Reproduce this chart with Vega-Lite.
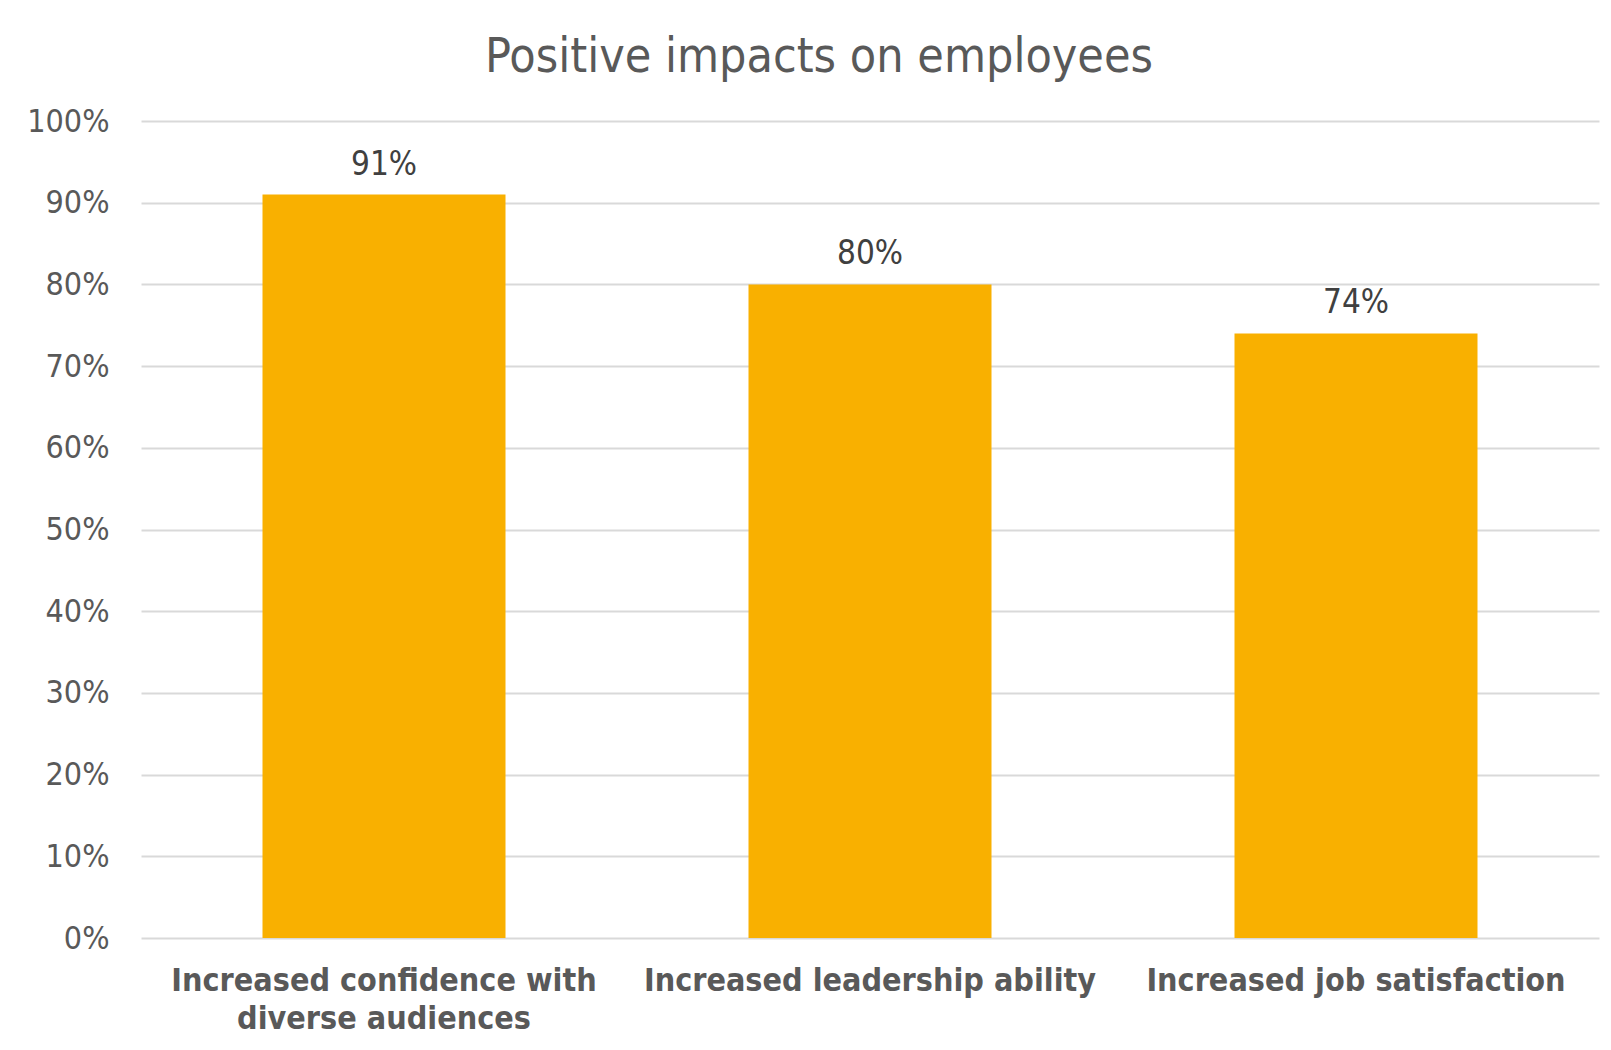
{
  "$schema": "https://vega.github.io/schema/vega-lite/v6.json",
  "autosize": {"type": "none"},
  "width": 1458,
  "height": 817,
  "padding": {"left": 141, "top": 121, "right": 12, "bottom": 112},
  "background": "white",
  "title": {
    "text": "Positive impacts on employees",
    "font": "DejaVu Sans Condensed",
    "fontSize": 48,
    "fontWeight": "normal",
    "color": "#595959",
    "anchor": "middle",
    "dx": -51,
    "offset": 23
  },
  "data": {
    "values": [
      {"impact": "Increased confidence with diverse audiences", "value": 0.91},
      {"impact": "Increased leadership ability", "value": 0.80},
      {"impact": "Increased job satisfaction", "value": 0.74}
    ]
  },
  "encoding": {
    "x": {
      "field": "impact",
      "type": "nominal",
      "sort": null,
      "title": null,
      "scale": {"paddingInner": 0.5, "paddingOuter": 0.25},
      "axis": {
        "domain": false,
        "ticks": false,
        "labelAngle": 0,
        "labelFont": "DejaVu Sans Condensed",
        "labelFontSize": 32,
        "labelFontWeight": "bold",
        "labelColor": "#595959",
        "labelPadding": 27,
        "labelLimit": 0,
        "labelLineHeight": 38,
        "labelExpr": "datum.label == 'Increased confidence with diverse audiences' ? ['Increased confidence with', 'diverse audiences'] : datum.label"
      }
    },
    "y": {
      "field": "value",
      "type": "quantitative",
      "title": null,
      "scale": {"domain": [0, 1], "nice": false},
      "axis": {
        "values": [0, 0.1, 0.2, 0.3, 0.4, 0.5, 0.6, 0.7, 0.8, 0.9, 1],
        "format": ".0%",
        "domain": false,
        "ticks": false,
        "grid": true,
        "gridColor": "#d9d9d9",
        "gridWidth": 2,
        "labelFont": "DejaVu Sans Condensed",
        "labelFontSize": 32,
        "labelColor": "#595959",
        "labelPadding": 32
      }
    }
  },
  "layer": [
    {"mark": {"type": "bar", "color": "#F9B000"}},
    {
      "mark": {
        "type": "text",
        "baseline": "alphabetic",
        "dy": -20,
        "font": "DejaVu Sans Condensed",
        "fontSize": 33,
        "color": "#404040"
      },
      "encoding": {
        "text": {"field": "value", "type": "quantitative", "format": ".0%"}
      }
    }
  ],
  "config": {"view": {"stroke": null}}
}
